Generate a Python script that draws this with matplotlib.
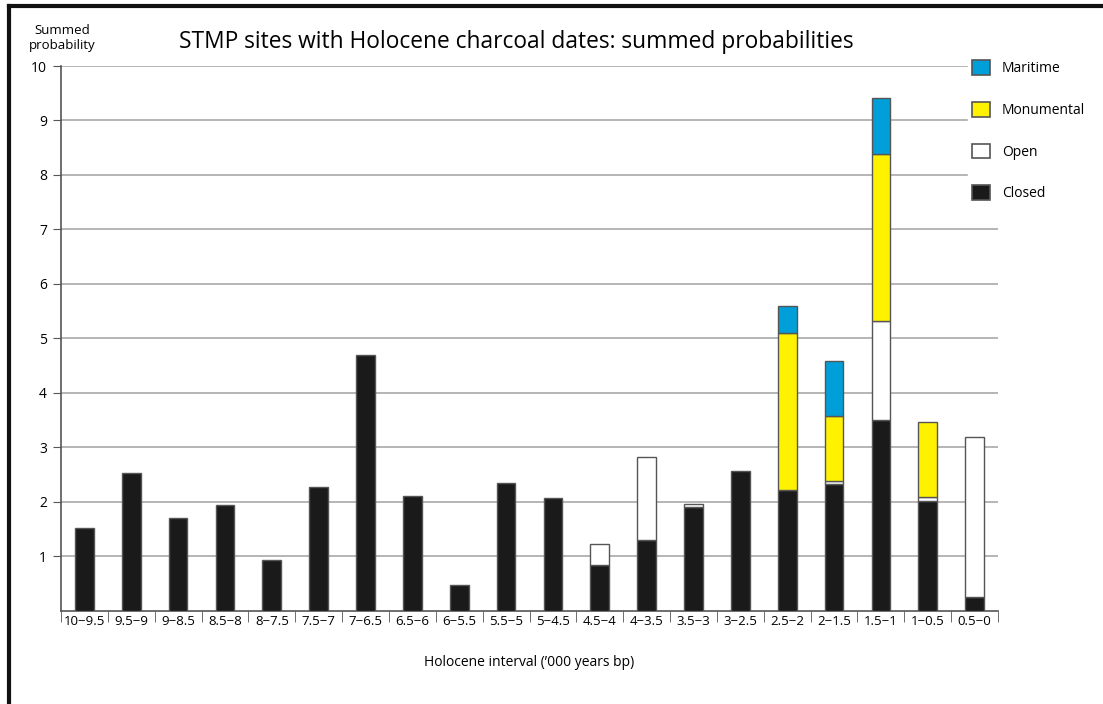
import matplotlib
matplotlib.use("Agg")
import matplotlib.pyplot as plt
from matplotlib.patches import Patch
from matplotlib.lines import Line2D
import numpy as np

intervals = ["10\u22129.5", "9.5\u22129", "9\u22128.5", "8.5\u22128", "8\u22127.5", "7.5\u22127",
             "7\u22126.5", "6.5\u22126", "6\u22125.5", "5.5\u22125", "5\u22124.5", "4.5\u22124",
             "4\u22123.5", "3.5\u22123", "3\u22122.5", "2.5\u22122", "2\u22121.5", "1.5\u22121",
             "1\u22120.5", "0.5\u22120"]
closed = [1.51, 2.52, 1.70, 1.94, 0.92, 2.26, 4.70, 2.10, 0.46, 2.34,
          2.07, 0.84, 1.29, 1.90, 2.57, 2.21, 2.33, 3.49, 2.01, 0.24]
open_ = [0, 0, 0, 0, 0, 0, 0, 0, 0, 0,
         0, 0.39, 1.53, 0.06, 0, 0, 0.05, 1.83, 0.07, 2.95]
monumental = [0, 0, 0, 0, 0, 0, 0, 0, 0, 0,
              0, 0, 0, 0, 0, 2.89, 1.19, 3.07, 1.38, 0]
maritime = [0, 0, 0, 0, 0, 0, 0, 0, 0, 0,
            0, 0, 0, 0, 0, 0.50, 1.02, 1.03, 0, 0]

series = [("Closed", closed, "#1a1a1a"),
          ("Open", open_, "#ffffff"),
          ("Monumental", monumental, "#fff200"),
          ("Maritime", maritime, "#009fda")]

plt.rcParams['font.family'] = ['Open Sans', 'DejaVu Sans']

fig = plt.figure(figsize=(11.03, 7.04), dpi=100)
ax = fig.add_axes([61/1103, 1-610.5/704, (998-61)/1103, (610.5-66)/704])

x = np.arange(len(intervals))
bottom = np.zeros(len(intervals))
edge = "#555555"
for name, vals, col in series:
    v = np.array(vals, dtype=float)
    m = v > 0
    ax.bar(x[m], v[m], bottom=bottom[m], width=0.4, color=col,
           edgecolor=edge, linewidth=1.0, zorder=3)
    bottom += v

ax.set_xlim(-0.5, len(intervals) - 0.5)
ax.set_ylim(0, 10)
ax.set_yticks(np.arange(1, 11))
ax.set_yticklabels([str(i) for i in range(1, 11)], fontsize=10)
ax.tick_params(axis='y', length=6, color="#555555", pad=4)
ax.yaxis.grid(True, color="#b0b0b0", linewidth=1.3, zorder=0)
ax.set_axisbelow(True)

ax.set_xticks(x)
ax.set_xticklabels(intervals, fontsize=9.5, family=['Liberation Sans Narrow', 'Open Sans', 'DejaVu Sans'])
ax.tick_params(axis='x', length=0, pad=3)
ax.set_xticks(np.arange(-0.5, len(intervals)), minor=True)
ax.tick_params(axis='x', which='minor', length=8, color="#555555", direction='out')

for s in ['top', 'right']:
    ax.spines[s].set_visible(False)
for s in ['left', 'bottom']:
    ax.spines[s].set_color("#555555")
    ax.spines[s].set_linewidth(1.2)

fig.text(516/1103, 1-42/704, "STMP sites with Holocene charcoal dates: summed probabilities",
         ha='center', va='center', fontsize=16.4, family=['Open Sans', 'DejaVu Sans'])
fig.text(62/1103, 1-38/704, "Summed\nprobability", ha='center', va='center',
         fontsize=9.5, linespacing=1.2)
fig.text(529.5/1103, 1-663/704, "Holocene interval (\u2019000 years bp)", ha='center', va='center',
         fontsize=10)

handles = [Patch(facecolor=c, edgecolor=edge, linewidth=1.2, label=n)
           for n, _, c in series[::-1]]
leg = fig.legend(handles=handles, loc='upper left', bbox_to_anchor=(968/1103, 1-56/704),
                 frameon=True, fontsize=10, labelspacing=1.85, handlelength=1.25,
                 handleheight=1.25, handletextpad=0.9, borderpad=0.3, borderaxespad=0)
leg.get_frame().set_edgecolor('white')
leg.get_frame().set_facecolor('white')
leg.get_frame().set_alpha(1)

# page frame lines (top and left)
fig.add_artist(Line2D([9/1103, 1], [1-6/704, 1-6/704], color='#111111', linewidth=3,
                      transform=fig.transFigure))
fig.add_artist(Line2D([9/1103, 9/1103], [0, 1-6/704], color='#111111', linewidth=3,
                      transform=fig.transFigure))

fig.savefig("out.png", dpi=100, facecolor='white')
